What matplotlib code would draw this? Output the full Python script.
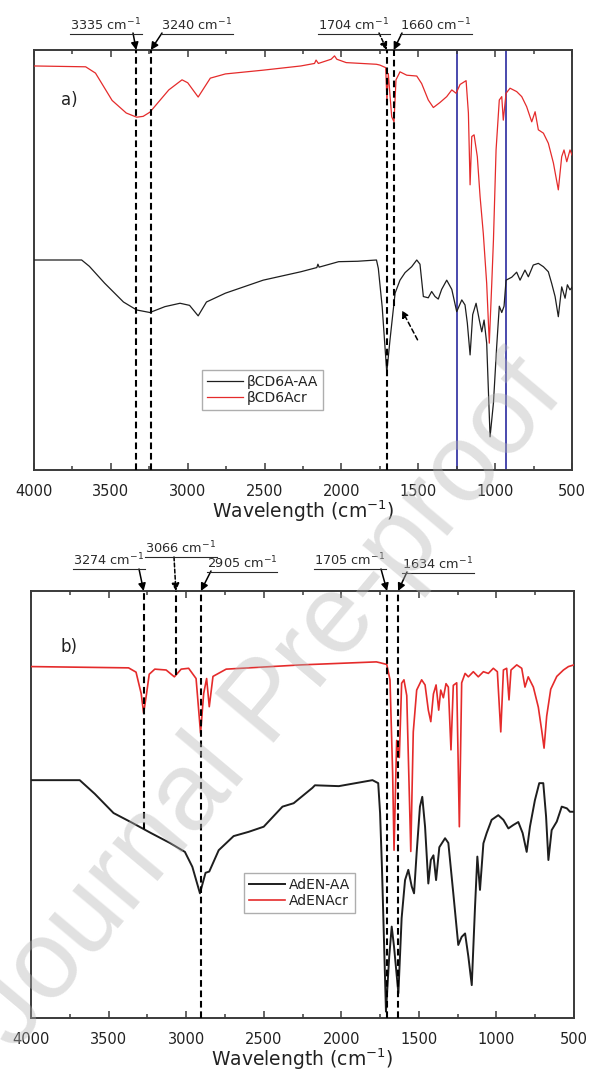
import numpy as np
import matplotlib
matplotlib.use("Agg")
import matplotlib.pyplot as plt
from matplotlib.lines import Line2D
from matplotlib.ticker import MultipleLocator
from matplotlib.transforms import IdentityTransform

plt.rcParams['font.family'] = ['DejaVu Sans']
plt.rcParams['mathtext.fontset'] = 'dejavusans'

# ---------------- data ----------------
# Panel a: beta-CD6A-AA (black)
wn_a_black = [4000, 3690, 3640, 3541, 3418, 3332, 3246, 3148, 3050, 2988, 2932, 2878,
              2755, 2509, 2264, 2160, 2153, 2145, 2018, 1895, 1772, 1760, 1735, 1705,
              1684, 1651, 1619, 1586, 1543, 1510, 1489, 1467, 1435, 1413, 1391, 1370,
              1348, 1315, 1282, 1250, 1217, 1196, 1181, 1163, 1146, 1124, 1103, 1087,
              1072, 1055, 1033, 1011, 990, 973, 957, 942, 929, 892, 860, 838, 806, 784,
              752, 719, 686, 654, 632, 610, 589, 567, 545, 530, 513, 500]
t_a_black = [50, 50, 48.5, 44.5, 40, 38.1, 37.5, 38.9, 39.7, 39.2, 36.7, 40,
             42.1, 45.2, 47.2, 48.2, 49, 48.3, 49.6, 49.7, 50, 48, 38.9, 23.2,
             31, 42.1, 45.2, 47, 48.4, 50, 49, 41.3, 41, 42.5, 41.3, 40.7,
             43, 45.2, 43, 37.7, 40.5, 39.3, 35, 27.4, 37, 39.7, 35.7, 32.9,
             35.7, 30.2, 7.9, 16, 29.4, 39, 37.5, 39, 45.2, 45.9, 47.1, 45.2, 47.6, 46,
             48.8, 49.2, 48.4, 47.2, 44.4, 41.3, 36.5, 43.6, 40.9, 44.1, 42.9, 43.5]

# Panel a: beta-CD6Acr (red)
wn_a_red = [4000, 3664, 3600, 3492, 3400, 3332, 3290, 3246, 3123, 3037, 3000, 2932,
            2853, 2755, 2509, 2264, 2175, 2165, 2150, 2067, 2045, 2030, 1969, 1772,
            1749, 1712, 1704, 1695, 1673, 1658, 1645, 1619, 1575, 1510, 1478, 1435,
            1402, 1359, 1315, 1282, 1254, 1228, 1189, 1174, 1163, 1152, 1137, 1116,
            1098, 1077, 1055, 1038, 1022, 1011, 994, 973, 957, 947, 929, 903, 860,
            827, 795, 762, 740, 719, 686, 654, 621, 589, 567, 552, 534, 513, 500]
t_a_red = [96.2, 96, 94.5, 88, 85, 84, 84.2, 85.2, 90.5, 92.9, 92.2, 88.8,
           93.3, 94.3, 95.2, 96.2, 96.8, 97.6, 96.8, 97.8, 98.6, 97.8, 97, 96.6,
           96.4, 95.8, 88, 94.4, 84.1, 82.9, 92.9, 94.8, 94, 93.8, 92, 88.1,
           86.3, 87.5, 88.9, 90.5, 89.7, 91.8, 92.7, 85, 67.9, 79.4, 79.8, 74.6,
           65.1, 56.3, 44.4, 30.2, 44.4, 54.8, 76.2, 88.1, 88.9, 83.3, 89.7, 90.9, 90.1,
           88.9, 86.5, 82.9, 85.3, 81, 80.2, 77.8, 73.1, 66.7, 74.6, 76.2, 73.4, 76.2, 75]

# Panel b: AdEN-AA (black)
wn_b_black = [4000, 3686, 3589, 3468, 3347, 3226, 3105, 3008, 2960, 2911, 2875, 2851,
              2790, 2694, 2597, 2500, 2379, 2307, 2186, 2170, 2016, 1799, 1762, 1750,
              1738, 1712, 1691, 1675, 1660, 1632, 1611, 1589, 1568, 1546, 1531, 1514,
              1493, 1478, 1460, 1439, 1423, 1406, 1389, 1368, 1331, 1310, 1278, 1246,
              1224, 1202, 1181, 1159, 1138, 1123, 1106, 1084, 1063, 1031, 988, 955,
              923, 891, 859, 831, 805, 784, 752, 724, 698, 680, 665, 644, 611, 579,
              546, 526, 500]
t_b_black = [55.7, 55.7, 52.5, 48, 45.7, 43.3, 41, 38.9, 35.4, 29.2, 34, 34.3,
             39.3, 42.6, 43.6, 44.8, 49.5, 50.3, 53.9, 54.5, 54.3, 55.7, 55, 48,
             35.4, 1.5, 14.4, 21.4, 16.7, 5.8, 23.4, 32.3, 34.7, 30.8, 29.2, 38.8,
             49.5, 51.8, 44.8, 31.5, 37, 38.1, 32.3, 40, 42.1, 41, 29.2, 17.1,
             19, 19.8, 14.4, 7.7, 26, 37.8, 30, 40.9, 43.3, 46.4, 47.5, 46.4,
             44.4, 45.2, 45.9, 43.3, 38.9, 44.8, 51, 55, 55, 47.2, 37, 44, 46, 49.5,
             49.1, 48.3, 48.3]

# Panel b: AdENAcr (red)
wn_b_red = [4000, 3371, 3323, 3290, 3274, 3255, 3238, 3202, 3129, 3076, 3032, 2984,
            2936, 2907, 2887, 2868, 2851, 2827, 2742, 2258, 1774, 1750, 1707, 1686,
            1669, 1660, 1643, 1626, 1611, 1596, 1578, 1552, 1536, 1514, 1482, 1460,
            1439, 1423, 1406, 1389, 1372, 1359, 1342, 1325, 1310, 1293, 1278, 1256,
            1239, 1224, 1202, 1181, 1149, 1117, 1084, 1052, 1020, 994, 972, 955,
            934, 919, 906, 869, 837, 816, 795, 762, 730, 708, 693, 676, 650, 611,
            568, 536, 500]
t_b_red = [82.3, 82, 81, 76, 71.4, 76, 80.5, 81.7, 81.5, 79.9, 81.7, 81.9,
           79.5, 66.7, 76, 79.5, 72.9, 80, 81.7, 82.7, 83.4, 83.2, 82.8, 79.2,
           57.3, 39.3, 65, 61, 78.4, 79.2, 75.5, 39, 67, 76.8, 79.2, 78,
           72.1, 69.4, 75.9, 78, 72.1, 76.8, 75, 78.3, 77.5, 62.8, 77.9, 78.5,
           44.8, 78.5, 80.7, 79.9, 81.1, 79.9, 81.1, 80.7, 81.9, 81.1, 67, 81.5,
           81.9, 74.5, 81.5, 82.7, 81.9, 77.5, 79.9, 77.5, 72.8, 67.3, 63.2, 70.7, 77, 80,
           81.5, 82.3, 82.7]

labels_a = ['\u03b2CD6A-AA', '\u03b2CD6Acr']
labels_b = ['AdEN-AA', 'AdENAcr']
marks_a = [3335, 3240, 1704, 1660]
marks_b = [3274, 3066, 2905, 1705, 1634]
region_a = [1250, 930]
xticks = [4000, 3500, 3000, 2500, 2000, 1500, 1000, 500]

# ---------------- layout ----------------
W, H = 590, 1078
fig = plt.figure(figsize=(W / 100, H / 100), dpi=100)
fig.patch.set_facecolor('white')


def rect(left, top, right, bottom):
    return [left / W, 1 - bottom / H, (right - left) / W, (bottom - top) / H]


ax_a = fig.add_axes(rect(34, 50, 572, 470))
ax_b = fig.add_axes(rect(31, 591, 574, 1018))

RED = '#e52b2b'
BLACK = '#1e1e1e'
SPINE = '#3a3a3a'
DASH = (0, (3.2, 1.8))


def style_axis(ax):
    ax.set_xlim(4000, 500)
    ax.set_ylim(0, 100)
    ax.set_yticks([])
    ax.set_xticks(xticks)
    ax.xaxis.set_minor_locator(MultipleLocator(250))
    ax.tick_params(axis='x', which='both', direction='in', top=True, bottom=True,
                   colors=SPINE, labelcolor='#222222', labelsize=10.5, pad=10)
    ax.tick_params(axis='x', which='major', length=5, width=1.1)
    ax.tick_params(axis='x', which='minor', length=3, width=1.1)
    for s in ax.spines.values():
        s.set_color(SPINE)
        s.set_linewidth(1.4)
    ax.set_xlabel('Wavelength (cm$^{-1}$)', fontsize=13.5, color='#222222', labelpad=0)


def curve_val(wn_list, t_list, w):
    return float(np.interp(w, wn_list[::-1], t_list[::-1]))


# ---------------- panel a ----------------
style_axis(ax_a)
for r in region_a:
    ax_a.axvline(r, color='#2a2aa0', lw=1.2, zorder=1)
ax_a.plot(wn_a_black, t_a_black, color=BLACK, lw=0.9, label=labels_a[0], zorder=3)
ax_a.plot(wn_a_red, t_a_red, color=RED, lw=0.9, label=labels_a[1], zorder=4)
for m in marks_a:
    lo = curve_val(wn_a_black, t_a_black, m) if m == 1660 else 0
    ax_a.plot([m, m], [lo, 100], color='black', lw=1.5, ls=DASH, zorder=5)
ax_a.text(0.05, 0.88, 'a)', transform=ax_a.transAxes, fontsize=12, color='#222222',
          va='center')
ax_a.annotate('', xy=(1606, 38), xytext=(1505, 31),
              arrowprops=dict(arrowstyle='-|>', color='black', lw=1.1, ls=(0, (3, 2)),
                              mutation_scale=10, shrinkA=0, shrinkB=0))
leg_a = ax_a.legend(loc='upper left', bbox_to_anchor=(0.312, 0.238), fontsize=10,
                    frameon=True, fancybox=False, edgecolor='#9a9a9a', borderaxespad=0,
                    handlelength=2.6, handletextpad=0.3, labelspacing=0.15,
                    borderpad=0.35)
leg_a.get_frame().set_linewidth(1.0)
for t in leg_a.get_texts():
    t.set_color('#222222')

# ---------------- panel b ----------------
style_axis(ax_b)
ax_b.plot(wn_b_black, t_b_black, color=BLACK, lw=1.4, label=labels_b[0], zorder=3)
ax_b.plot(wn_b_red, t_b_red, color=RED, lw=1.2, label=labels_b[1], zorder=4)
for m in marks_b:
    if m == 3274:
        lo = curve_val(wn_b_black, t_b_black, m)
    elif m == 3066:
        lo = curve_val(wn_b_red, t_b_red, m)
    else:
        lo = 0
    ax_b.plot([m, m], [lo, 100], color='black', lw=1.5, ls=DASH, zorder=5)
ax_b.text(0.055, 0.87, 'b)', transform=ax_b.transAxes, fontsize=12, color='#222222',
          va='center')
leg_b = ax_b.legend(loc='upper left', bbox_to_anchor=(0.392, 0.34), fontsize=10,
                    frameon=True, fancybox=False, edgecolor='#9a9a9a', borderaxespad=0,
                    handlelength=2.6, handletextpad=0.3, labelspacing=0.15,
                    borderpad=0.35)
leg_b.get_frame().set_linewidth(1.0)
for t in leg_b.get_texts():
    t.set_color('#222222')

# ---------------- top annotations ----------------
# (axis, wavenumber, text centre x px, baseline y px, arrow tail px, dashed)
ann = [
    (ax_a, marks_a[0], 106, 30, (133, 33), False),
    (ax_a, marks_a[1], 197, 30, (162, 33), False),
    (ax_a, marks_a[2], 354, 30, (379, 33), True),
    (ax_a, marks_a[3], 436, 30, (402, 33), False),
    (ax_b, marks_b[0], 109, 565, (139, 569), False),
    (ax_b, marks_b[1], 181, 553, (174, 557), True),
    (ax_b, marks_b[2], 242, 568, (211, 571), False),
    (ax_b, marks_b[3], 350, 565, (381, 569), False),
    (ax_b, marks_b[4], 438, 569, (407, 572), False),
]
texts = []
for ax, wn, tx, ty, tail, dashed in ann:
    t = fig.text(tx / W, 1 - ty / H, f'{wn} cm$^{{-1}}$', ha='center', va='baseline',
                 fontsize=9.3, color='#2a2a2a')
    texts.append(t)
    ax.annotate('', xy=(wn, 1.0), xycoords=ax.get_xaxis_transform(),
                xytext=(tail[0] / W, 1 - tail[1] / H), textcoords='figure fraction',
                annotation_clip=False,
                arrowprops=dict(arrowstyle='-|>', color='black', lw=1.1,
                                ls=(0, (2.5, 1.5)) if dashed else '-',
                                mutation_scale=11, shrinkA=0, shrinkB=0))

# watermark
fig.text(268 / W, 1 - 705 / H, 'Journal Pre-proof', rotation=50, rotation_mode='anchor',
         ha='center', va='center', fontsize=80, family=['Liberation Sans', 'DejaVu Sans'],
         color='#b4b4b4', alpha=0.4, zorder=20)

# underline the annotation labels
fig.canvas.draw()
for t in texts:
    bb = t.get_window_extent()
    fig.add_artist(Line2D([bb.x0, bb.x1], [bb.y0 - 0.5, bb.y0 - 0.5],
                          transform=IdentityTransform(), color='#2a2a2a', lw=0.8))

fig.savefig('out.png', dpi=100, facecolor='white')
